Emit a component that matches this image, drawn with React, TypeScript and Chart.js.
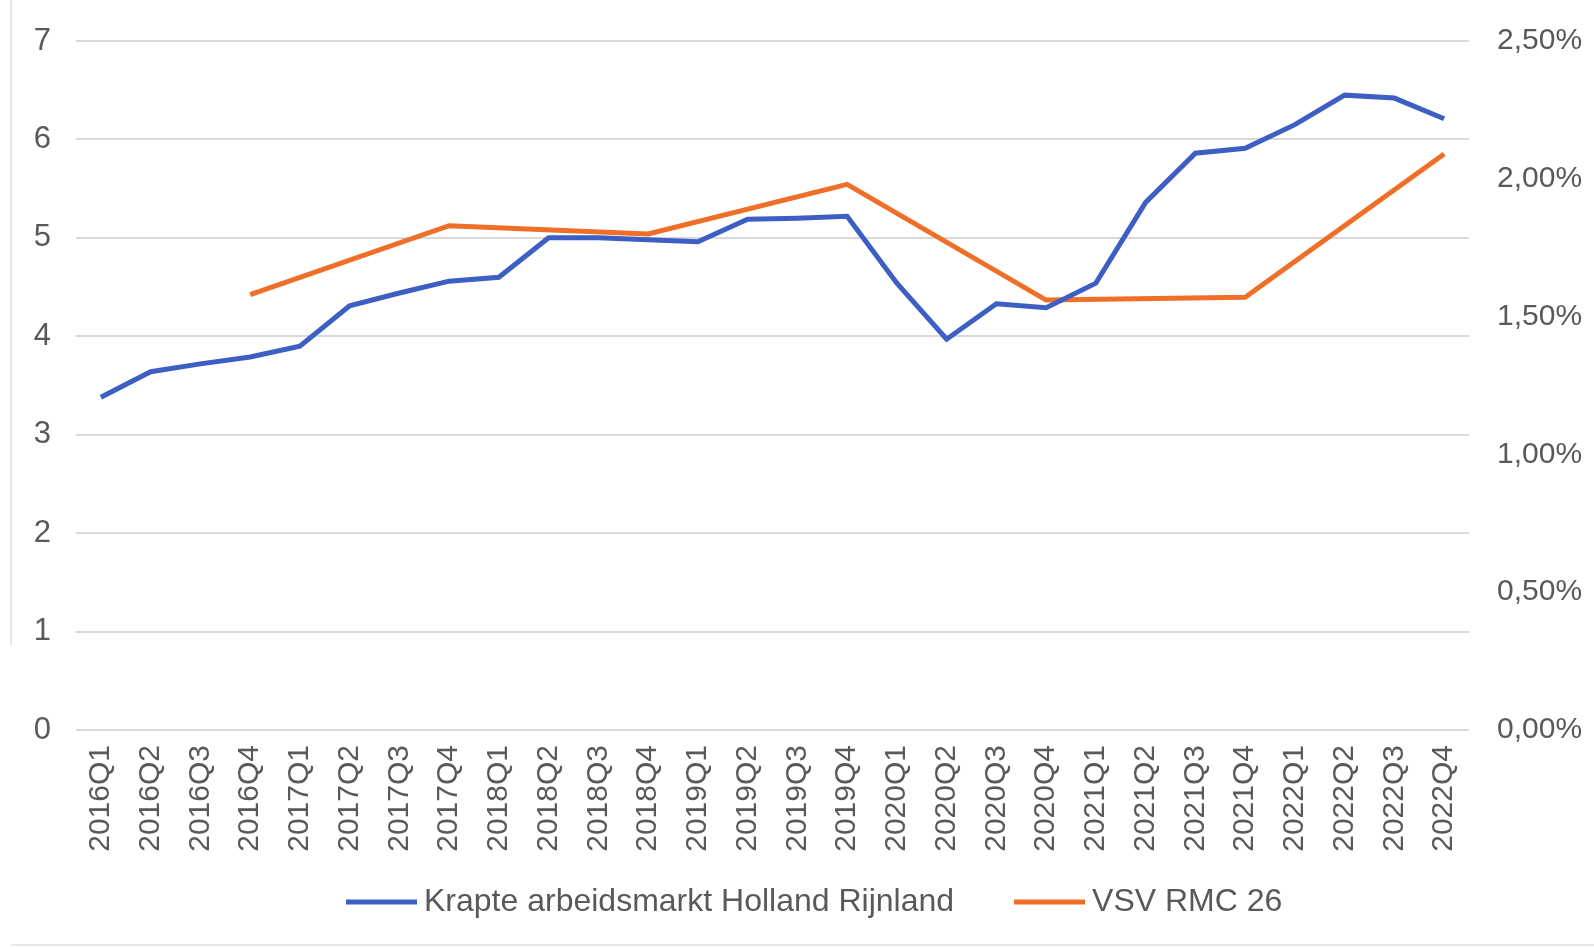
import React, { useEffect, useRef } from "react";
import { Chart, registerables } from "chart.js";

Chart.register(...registerables);

const categories = [
  "2016Q1", "2016Q2", "2016Q3", "2016Q4",
  "2017Q1", "2017Q2", "2017Q3", "2017Q4",
  "2018Q1", "2018Q2", "2018Q3", "2018Q4",
  "2019Q1", "2019Q2", "2019Q3", "2019Q4",
  "2020Q1", "2020Q2", "2020Q3", "2020Q4",
  "2021Q1", "2021Q2", "2021Q3", "2021Q4",
  "2022Q1", "2022Q2", "2022Q3", "2022Q4",
];

const krapteLabel = "Krapte arbeidsmarkt Holland Rijnland";
const krapteValues = [
  3.38, 3.64, 3.72, 3.79,
  3.9, 4.31, 4.44, 4.56,
  4.6, 5.0, 5.0, 4.98,
  4.96, 5.19, 5.2, 5.22,
  4.54, 3.97, 4.33, 4.29,
  4.54, 5.36, 5.86, 5.91,
  6.15, 6.45, 6.42, 6.21,
];

const vsvLabel = "VSV RMC 26";
const vsvValues: (number | null)[] = [
  null, null, null, 1.58,
  null, null, null, 1.83,
  null, null, null, 1.8,
  null, null, null, 1.98,
  null, null, null, 1.56,
  null, null, null, 1.57,
  null, null, null, 2.09,
];

const leftTicks = { min: 0, max: 7, step: 1 };
const rightTicks = { min: 0, max: 2.5, step: 0.5 };

const BLUE = "#3D5EC2";
const ORANGE = "#EF6F28";
const TEXT = "#595959";
const FONT = "'Liberation Sans', Arial, sans-serif";

const framePlugin = {
  id: "frame",
  beforeDraw(chart: any) {
    const ctx = chart.ctx as CanvasRenderingContext2D;
    ctx.save();
    ctx.strokeStyle = "#e6e6e6";
    ctx.lineWidth = 2;
    ctx.beginPath();
    ctx.moveTo(11, 0);
    ctx.lineTo(11, 645);
    ctx.moveTo(11, 945);
    ctx.lineTo(1594, 945);
    ctx.stroke();
    ctx.restore();
  },
};

const legendPlugin = {
  id: "customLegend",
  afterDraw(chart: any) {
    const ctx = chart.ctx as CanvasRenderingContext2D;
    ctx.save();
    ctx.font = `32px ${FONT}`;
    ctx.textBaseline = "middle";
    ctx.textAlign = "left";
    const y = 902;
    let x = 346;
    const lineLen = 71;
    const textGap = 7;
    const itemGap = 60;
    chart.data.datasets.forEach((ds: any) => {
      ctx.strokeStyle = ds.borderColor;
      ctx.lineWidth = 5;
      ctx.beginPath();
      ctx.moveTo(x, y);
      ctx.lineTo(x + lineLen, y);
      ctx.stroke();
      x += lineLen + textGap;
      ctx.fillStyle = TEXT;
      ctx.fillText(ds.label, x, y);
      x += ctx.measureText(ds.label).width + itemGap;
    });
    ctx.restore();
  },
};

const noVerticalPadding = (scale: any) => {
  scale.paddingTop = 0;
  scale.paddingBottom = 0;
};

export default function App() {
  const canvasRef = useRef<HTMLCanvasElement | null>(null);

  useEffect(() => {
    document.body.style.margin = "0";
    const canvas = canvasRef.current;
    if (!canvas) return;
    const chart = new Chart(canvas, {
      type: "line",
      data: {
        labels: categories,
        datasets: [
          {
            label: krapteLabel,
            data: krapteValues,
            borderColor: BLUE,
            backgroundColor: BLUE,
            borderWidth: 5,
            pointRadius: 0,
            tension: 0,
            yAxisID: "y",
          },
          {
            label: vsvLabel,
            data: vsvValues,
            borderColor: ORANGE,
            backgroundColor: ORANGE,
            borderWidth: 5,
            pointRadius: 0,
            tension: 0,
            spanGaps: true,
            yAxisID: "y1",
          },
        ],
      },
      options: {
        animation: false,
        responsive: false,
        maintainAspectRatio: false,
        layout: { padding: { top: 41, left: 0, right: 0, bottom: 0 } },
        plugins: {
          legend: { display: false },
          tooltip: { enabled: false },
        },
        scales: {
          x: {
            type: "category",
            offset: true,
            grid: { display: false, drawTicks: false },
            border: { display: false },
            ticks: {
              autoSkip: false,
              minRotation: 90,
              maxRotation: 90,
              padding: 15,
              color: TEXT,
              font: { family: FONT, size: 30 },
            },
            afterFit: (scale: any) => {
              scale.height = 218;
            },
          },
          y: {
            position: "left",
            min: leftTicks.min,
            max: leftTicks.max,
            grid: { color: "#d9d9d9", lineWidth: 2, drawTicks: false },
            border: { display: false },
            ticks: {
              stepSize: leftTicks.step,
              padding: 25,
              color: TEXT,
              font: { family: FONT, size: 31 },
            },
            afterFit: (scale: any) => {
              scale.width = 76;
              noVerticalPadding(scale);
            },
          },
          y1: {
            position: "right",
            min: rightTicks.min,
            max: rightTicks.max,
            grid: { display: false, drawTicks: false },
            border: { display: false },
            ticks: {
              stepSize: rightTicks.step,
              padding: 28,
              color: TEXT,
              font: { family: FONT, size: 30 },
              callback: (v: any) => Number(v).toFixed(2).replace(".", ",") + "%",
            },
            afterFit: (scale: any) => {
              scale.width = 125;
              noVerticalPadding(scale);
            },
          },
        },
      },
      plugins: [framePlugin, legendPlugin],
    });
    return () => chart.destroy();
  }, []);

  return (
    <div style={{ width: 1594, height: 948, background: "#ffffff" }}>
      <canvas ref={canvasRef} width={1594} height={948} style={{ display: "block" }} />
    </div>
  );
}
